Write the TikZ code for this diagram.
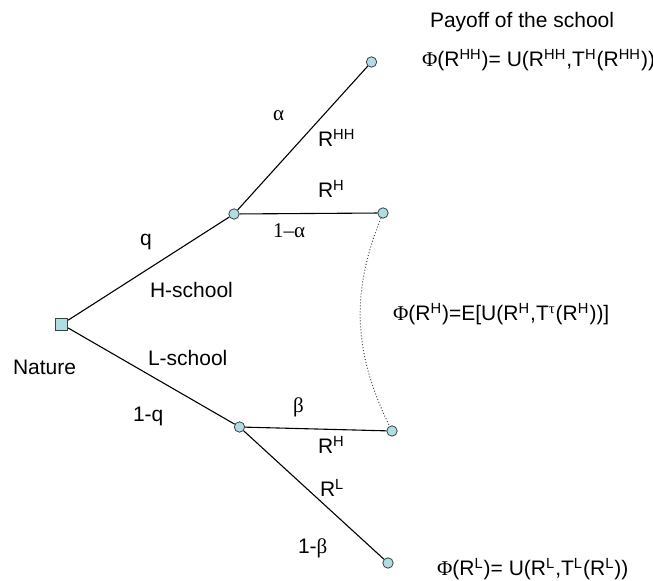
\documentclass[tikz,border=0pt]{standalone}
\usepackage{fontspec}
\setmainfont{Liberation Sans}
\newfontfamily\grk{Liberation Serif}
\usetikzlibrary{positioning}
\definecolor{dotfill}{RGB}{174,222,228}
\newcommand{\sps}[1]{\textsuperscript{#1}}

\begin{document}
\begin{tikzpicture}[
  x=0.5pt, y=-0.5pt, font=\fontsize{10.5}{12}\selectfont,
  chance/.style={draw=black!75,fill=dotfill,circle,inner sep=0pt,minimum size=5.2pt,line width=0.4pt},
  root/.style={draw=black!75,fill=dotfill,rectangle,inner sep=0pt,minimum size=6pt,line width=0.4pt},
  lbl/.style={anchor=base west,inner sep=0pt,outer sep=0pt},
  branch/.style={line width=0.55pt}
]
\useasboundingbox (0,0) rectangle (653,581);
\node[root] (nature) at (61.7,324.3) {};
\node[chance] (h) at (234,214) {};
\node[chance] (l) at (239.5,427) {};
\node[chance] (hh) at (371.5,62) {};
\node[chance] (hr) at (383,213) {};
\node[chance] (lh) at (392,431) {};
\node[chance] (ll) at (388,563) {};
\draw[branch] (nature) -- (h);
\draw[branch] (nature) -- (l);
\draw[branch] (h) -- (hh);
\draw[branch] (h) -- (hr);
\draw[branch] (l) -- (lh);
\draw[branch] (l) -- (ll);
\draw[densely dotted,black!70,line width=0.5pt] (hr) .. controls (352,290) and (352,350) .. (lh);
\node[lbl] (payoff) at (430,28) {Payoff of the school};
\node[lbl] (phihh) at (422,67) {{\grk Φ}(R\sps{HH})= U(R\sps{HH},T\sps{H}(R\sps{HH}))};
\node[lbl] (alpha) at (273,121) {\grk α};
\node[lbl] (rhh) at (318,147) {R\sps{HH}};
\node[lbl] (rhtop) at (318,198) {R\sps{H}};
\node[lbl] (onealpha) at (273,238) {\grk 1–α};
\node[lbl] (q) at (140,246) {q};
\node[lbl] (hschool) at (150,298) {H-school};
\node[lbl] (phih) at (393,321) {{\grk Φ}(R\sps{H})=E[U(R\sps{H},T\sps{\grk τ}(R\sps{H}))]};
\node[lbl] (lschool) at (148,366) {L-school};
\node[lbl] (naturelbl) at (13,375) {Nature};
\node[lbl] (oneq) at (133,422) {1-q};
\node[lbl] (beta) at (293,413) {\grk β};
\node[lbl] (rhbot) at (318,454) {R\sps{H}};
\node[lbl] (rl) at (320,497) {R\sps{L}};
\node[lbl] (onebeta) at (298,554) {1-{\grk β}};
\node[lbl] (phil) at (437,576) {{\grk Φ}(R\sps{L})= U(R\sps{L},T\sps{L}(R\sps{L}))};
\end{tikzpicture}
\end{document}
